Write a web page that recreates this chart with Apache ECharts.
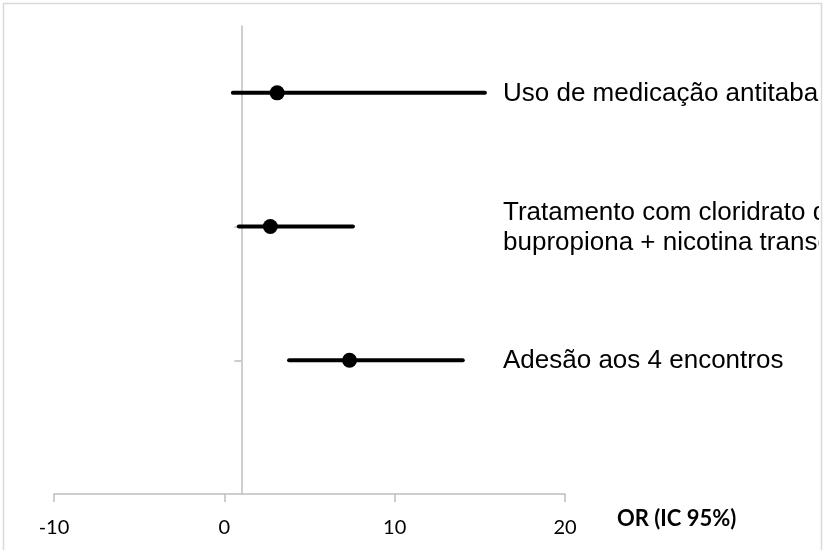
<!DOCTYPE html>
<html>
<head>
<meta charset="utf-8">
<script src="https://cdn.jsdelivr.net/npm/echarts@6/dist/echarts.min.js"></script>
<style>
html,body{margin:0;padding:0;background:#fff;}
#chart{width:826px;height:550px;}
</style>
</head>
<body>
<div id="chart"></div>
<script>
// Data
const categories = [
  'Adesão aos 4 encontros',
  'Tratamento com cloridrato de\nbupropiona + nicotina transdérmica',
  'Uso de medicação antitabagística'
];
const yPositions = [1, 2, 3];
const orValues = [7.35, 2.7, 3.1];
const lowerCI = [3.8, 0.85, 0.5];
const upperCI = [14.0, 7.55, 15.3];
const xMin = -10, xMax = 20, xInterval = 10;
const refLine = 1;
const axisTitle = 'OR (IC 95%)';

const seriesData = categories.map((c, i) => [orValues[i], yPositions[i], lowerCI[i], upperCI[i], c]);

const chart = echarts.init(document.getElementById('chart'), null, {renderer: 'canvas'});

const gridLeft = 54, gridRight = 261;
const gridWidth = 826 - gridLeft - gridRight;
const refOffset = -((refLine - xMin) / (xMax - xMin)) * gridWidth;

chart.setOption({
  animation: false,
  backgroundColor: '#fff',
  grid: {left: gridLeft, right: gridRight, top: 26, bottom: 56, containLabel: false},
  xAxis: {
    type: 'value', min: xMin, max: xMax, interval: xInterval,
    axisLine: {show: true, onZero: false, lineStyle: {color: '#bfbfbf', width: 1.5}},
    axisTick: {show: true, length: 8, lineStyle: {color: '#bfbfbf', width: 1.5}},
    axisLabel: {color: '#000', fontSize: 20, fontFamily: 'Lato, sans-serif', margin: 24},
    splitLine: {show: false}
  },
  yAxis: {
    type: 'value', min: 0, max: 3.5, interval: 1,
    position: 'left', offset: refOffset,
    axisLine: {show: true, onZero: false, lineStyle: {color: '#bfbfbf', width: 1.5}},
    axisTick: {show: true, length: 7, customValues: yPositions, lineStyle: {color: '#bfbfbf', width: 1.5}},
    axisLabel: {show: false},
    splitLine: {show: false}
  },
  graphic: [
    {type: 'rect', shape: {x: 819, y: 0, width: 10, height: 560}, style: {fill: '#fff'}, silent: true, z: 200},
    {type: 'rect', shape: {x: 3.5, y: 3.5, width: 818, height: 560}, style: {fill: 'none', stroke: '#d9d9d9', lineWidth: 1.5}, silent: true, z: 201},
    {type: 'text', left: 617, top: 508, style: {text: axisTitle, fill: '#000', font: 'bold 22px Lato, sans-serif'}}
  ],
  series: [{
    type: 'custom',
    data: seriesData,
    clip: false,
    renderItem: function (params, api) {
      const y = api.value(1);
      const pLow = api.coord([api.value(2), y]);
      const pHigh = api.coord([api.value(3), y]);
      const pMid = api.coord([api.value(0), y]);
      const textX = api.coord([xMax, y])[0] - 62;
      return {
        type: 'group',
        children: [
          {type: 'line', shape: {x1: pLow[0], y1: pLow[1], x2: pHigh[0], y2: pHigh[1]},
           style: {stroke: '#000', lineWidth: 4, lineCap: 'round'}},
          {type: 'circle', shape: {cx: pMid[0], cy: pMid[1], r: 7.5}, style: {fill: '#000'}},
          {type: 'text', x: textX, y: pMid[1] + 1,
           style: {text: categories[params.dataIndex], fill: '#000', font: '26px "Liberation Sans", Arial, sans-serif',
                   textVerticalAlign: 'middle', verticalAlign: 'middle', lineHeight: 30}}
        ]
      };
    }
  }]
});
</script>
</body>
</html>
